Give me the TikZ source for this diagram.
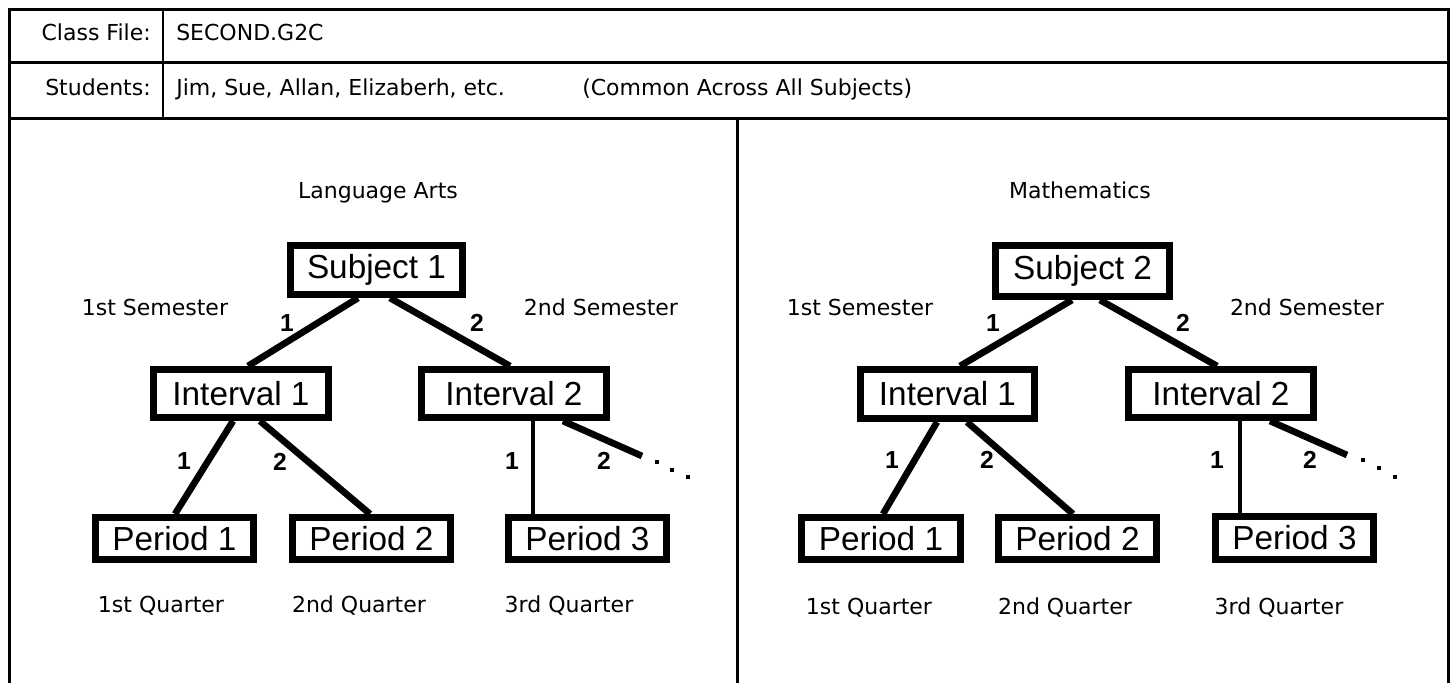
\documentclass[tikz,border=0pt]{standalone}
\usepackage{fontspec}
\setmainfont{DejaVu Sans}
\newfontfamily\boxfont{Liberation Sans}
\usetikzlibrary{calc}
\pgfdeclarelayer{background}
\pgfsetlayers{background,main}
\begin{document}
\begin{tikzpicture}[x=0.75pt,y=-0.75pt,
  frame/.style={line width=2.25pt},
  thinrule/.style={line width=1.5pt},
  txt/.style={inner sep=0pt, text height=12pt, text depth=3pt, font=\fontsize{16.5}{19}\selectfont},
  elabel/.style={inner sep=0pt, text height=13pt, text depth=0pt, font=\boxfont\bfseries\fontsize{18.5}{21}\selectfont},
  tbox/.style={draw, line width=5.25pt, fill=white, inner sep=0pt, font=\boxfont\fontsize{25}{28}\selectfont},
  bsize/.style 2 args={minimum width={(#1-7)*0.75pt}, minimum height={(#2-7)*0.75pt}},
  conn/.style={line width=5pt},
  connthin/.style={line width=3.4pt},
  dotmark/.style={fill, minimum size=2.6pt, inner sep=0pt, rectangle}
]
\useasboundingbox (0,0) rectangle (1452,683);

% frame and header table
\draw[frame] (9,683) -- (9,9) -- (1448,9) -- (1448,683);
\draw[frame] (9,62) -- (1448,62);
\draw[frame] (9,118) -- (1448,118);
\draw[thinrule] (163,9) -- (163,118);
\draw[frame] (737,118) -- (737,683);

\node[txt, anchor=east] (cfl) at (151,34) {Class File:};
\node[txt, anchor=west] (cfv) at (176,34) {SECOND.G2C};
\node[txt, anchor=east] (stl) at (151,89) {Students:};
\node[txt, anchor=west] (stv) at (176,89) {Jim, Sue, Allan, Elizaberh, etc.};
\node[txt, anchor=west] (stc) at (582,89) {(Common Across All Subjects)};

% ---------- left tree ----------
\node[txt] (la) at (378,192) {Language Arts};
\node[txt] (sem1a) at (155,309) {1st Semester};
\node[txt] (sem2a) at (601,309) {2nd Semester};
\node[txt] (q1a) at (161,606) {1st Quarter};
\node[txt] (q2a) at (359,606) {2nd Quarter};
\node[txt] (q3a) at (569,606) {3rd Quarter};

\node[tbox, bsize={179}{56}] (s1) at (376.5,270) {Subject 1};
\node[tbox, bsize={182}{55}] (i1) at (241,393.5) {Interval 1};
\node[tbox, bsize={192}{55}] (i2) at (514,393.5) {Interval 2};
\node[tbox, bsize={165}{49}] (p1) at (174.5,538.5) {Period 1};
\node[tbox, bsize={165}{49}] (p2) at (371.5,538.5) {Period 2};
\node[tbox, bsize={165}{49}] (p3) at (587.5,538.5) {Period 3};
\coordinate (d1) at (642,456);

\begin{pgfonlayer}{background}
\draw[conn] ($(s1.south)+(-18.5,0)$) -- ($(i1.north)+(7,0)$);
\draw[conn] ($(s1.south)+(13.5,0)$) -- ($(i2.north)+(-4,0)$);
\draw[conn] ($(i1.south)+(-8,0)$) -- ($(p1.north)+(0.5,0)$);
\draw[conn] ($(i1.south)+(19,0)$) -- ($(p2.north)+(-1.5,0)$);
\draw[connthin] ($(i2.south)+(19,0)$) -- ($(p3.north)+(-54.5,0)$);
\draw[conn] ($(i2.south)+(49,0)$) -- (d1);
\end{pgfonlayer}
\node[dotmark] (da1) at (657,462) {};
\node[dotmark] (da2) at (672,470) {};
\node[dotmark] (da3) at (688,477) {};

\node[elabel] (e1) at (287,323) {1};
\node[elabel] (e2) at (477,323) {2};
\node[elabel] (e3) at (184,461) {1};
\node[elabel] (e4) at (280,462) {2};
\node[elabel] (e5) at (512,461) {1};
\node[elabel] (e6) at (604,461) {2};

% ---------- right tree ----------
\node[txt] (ma) at (1080,192) {Mathematics};
\node[txt] (sem1b) at (860,309) {1st Semester};
\node[txt] (sem2b) at (1307,309) {2nd Semester};
\node[txt] (q1b) at (869,608) {1st Quarter};
\node[txt] (q2b) at (1065,608) {2nd Quarter};
\node[txt] (q3b) at (1279,608) {3rd Quarter};

\node[tbox, bsize={181}{58}] (s2) at (1082.5,271) {Subject 2};
\node[tbox, bsize={181}{56}] (i3) at (947.5,394) {Interval 1};
\node[tbox, bsize={192}{55}] (i4) at (1221,393.5) {Interval 2};
\node[tbox, bsize={166}{49}] (p4) at (881,538.5) {Period 1};
\node[tbox, bsize={165}{49}] (p5) at (1077.5,538.5) {Period 2};
\node[tbox, bsize={165}{50}] (p6) at (1294.5,538) {Period 3};
\coordinate (d2) at (1347,455);

\begin{pgfonlayer}{background}
\draw[conn] ($(s2.south)+(-10.5,0)$) -- ($(i3.north)+(12.5,0)$);
\draw[conn] ($(s2.south)+(17.5,0)$) -- ($(i4.north)+(-4,0)$);
\draw[conn] ($(i3.south)+(-10.5,0)$) -- ($(p4.north)+(2,0)$);
\draw[conn] ($(i3.south)+(19.5,0)$) -- ($(p5.north)+(-4.5,0)$);
\draw[connthin] ($(i4.south)+(19,0)$) -- ($(p6.north)+(-54.5,0)$);
\draw[conn] ($(i4.south)+(49,0)$) -- (d2);
\end{pgfonlayer}
\node[dotmark] (db1) at (1363,460) {};
\node[dotmark] (db2) at (1379,468) {};
\node[dotmark] (db3) at (1395,477) {};

\node[elabel] (f1) at (993,323) {1};
\node[elabel] (f2) at (1183,323) {2};
\node[elabel] (f3) at (892,460) {1};
\node[elabel] (f4) at (987,460) {2};
\node[elabel] (f5) at (1217,460) {1};
\node[elabel] (f6) at (1310,460) {2};
\end{tikzpicture}
\end{document}
